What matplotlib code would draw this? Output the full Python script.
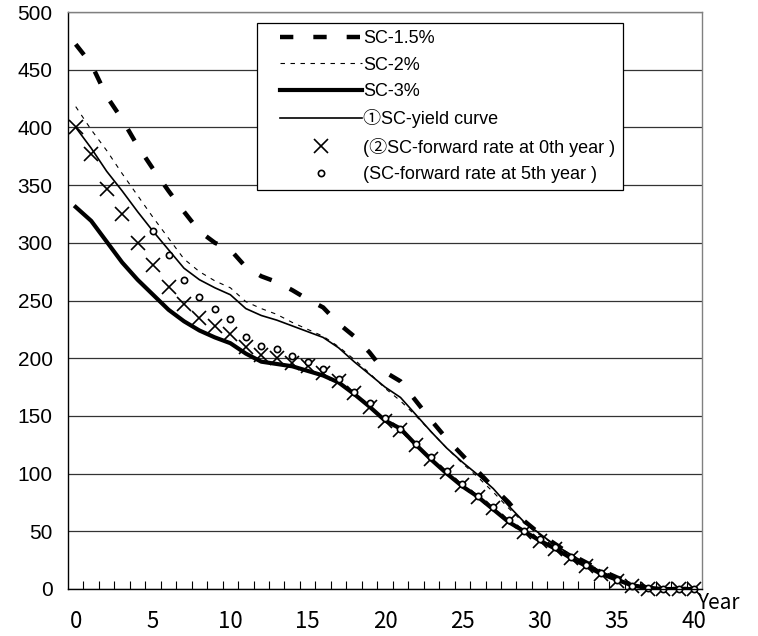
"""
plot.py
-------
Surrender charge curves by year (SC-1.5%, SC-2%, SC-3%, yield curve, forward rates).
Saves the chart as out.png
"""

import numpy as np
import matplotlib
matplotlib.use("Agg")
import matplotlib.pyplot as plt
import matplotlib.lines as mlines
from matplotlib.legend_handler import HandlerLine2D

# -------------------------------------------------------
# Data
# -------------------------------------------------------
years = list(range(0, 41))

sc_15 = [472, 455, 427, 407, 384, 364, 345, 327, 310, 300, 294, 279, 271, 266,
         259, 251, 244, 230, 219, 205, 188, 180, 163, 146, 130, 116, 102, 88,
         75, 59, 48, 39, 30, 23, 16, 10, 5, 1, 0, 0, 0]

sc_2 = [418, 398, 380, 360, 341, 322, 304, 286, 275, 267, 261, 249, 243, 238,
        231, 225, 219, 210, 199, 187, 174, 163, 150, 136, 122, 109, 97, 84,
        70, 57, 47, 38, 30, 23, 16, 10, 5, 1, 0, 0, 0]

sc_3 = [331, 319, 301, 283, 268, 255, 242, 232, 224, 218, 213, 204, 197, 195,
        193, 189, 185, 179, 169, 158, 146, 139, 125, 112, 100, 89, 80, 69,
        58, 50, 42, 35, 27, 20, 13, 8, 3, 1, 0, 0, 0]

yield_curve = [400, 382, 362, 345, 327, 310, 294, 278, 268, 261, 255, 243, 237,
               233, 228, 223, 218, 209, 197, 186, 175, 166, 151, 136, 122, 110,
               99, 87, 72, 58, 48, 38, 30, 22, 15, 9, 4, 1, 0, 0, 0]

fwd_0 = [400, 377, 347, 325, 300, 281, 262, 247, 235, 228, 221, 210, 203, 200,
         196, 193, 187, 180, 170, 158, 146, 138, 125, 113, 101, 90, 80, 70,
         59, 49, 42, 35, 27, 20, 13, 7, 3, 0, 0, 0, 0]

years_5 = list(range(5, 41))
fwd_5 = [310, 289, 268, 253, 243, 234, 218, 211, 208, 202, 197, 191, 182, 171,
         161, 148, 139, 126, 114, 102, 91, 81, 71, 60, 50, 43, 36, 28, 21, 14,
         8, 3, 1, 0, 0, 0]

labels = ["SC-1.5%", "SC-2%", "SC-3%", "①SC-yield curve",
          "(②SC-forward rate at 0th year )",
          "(SC-forward rate at 5th year )"]

# Arial-like latin text, CJK font only for the circled digits
LEGEND_FONT = ["Liberation Sans", "Noto Sans CJK JP", "DejaVu Sans"]

# -------------------------------------------------------
# Figure
# -------------------------------------------------------
fig = plt.figure(figsize=(7.58, 6.36), dpi=100)
ax = fig.add_axes([68 / 758, 47 / 636, 634 / 758, 577 / 636])

ax.plot(years, sc_15, color="black", linewidth=3.2,
        linestyle=(0, (3.0, 4.5)), label=labels[0])
ax.plot(years, sc_2, color="black", linewidth=0.8,
        linestyle=(0, (4, 5)), label=labels[1])
ax.plot(years, sc_3, color="black", linewidth=3.0, label=labels[2])
ax.plot(years, yield_curve, color="black", linewidth=1.2, label=labels[3])
ax.plot(years, fwd_0, linestyle="none", marker="x", markersize=9.5,
        markeredgewidth=1.2, color="black", clip_on=False, label=labels[4])
ax.plot(years_5, fwd_5, linestyle="none", marker="o", markersize=4.5,
        markeredgewidth=1.2, markerfacecolor="white", markeredgecolor="black",
        clip_on=False, label=labels[5])

# Axes range and ticks (Excel style category axis)
ax.set_xlim(-0.5, 40.5)
ax.set_ylim(0, 500)
ax.set_xticks(np.arange(0, 41, 5))
ax.set_xticks(np.arange(0.5, 40, 1), minor=True)
ax.set_yticks(np.arange(0, 501, 50))
ax.tick_params(axis="x", which="major", length=0, pad=15)
ax.tick_params(axis="x", which="minor", direction="in", length=6, width=0.8)
ax.tick_params(axis="y", length=0, pad=11)

for lab in ax.get_xticklabels():
    lab.set_fontfamily(["Noto Sans CJK JP", "DejaVu Sans"])
    lab.set_fontsize(16)
for lab in ax.get_yticklabels():
    lab.set_fontfamily(["Liberation Sans", "DejaVu Sans"])
    lab.set_fontsize(15)

ax.grid(axis="y", color="#333333", linewidth=0.9)
ax.set_axisbelow(True)
ax.spines["left"].set_color("black")
ax.spines["bottom"].set_color("black")
ax.spines["top"].set_color("#808080")
ax.spines["right"].set_color("#808080")
for spine in ax.spines.values():
    spine.set_linewidth(1.0)

ax.text(697 / 758, 1 - 603 / 636, "Year", transform=fig.transFigure,
        ha="left", va="center", fontsize=15, family=["Noto Sans CJK JP", "DejaVu Sans"])

# Legend
leg = ax.legend(loc="upper left", bbox_to_anchor=(257 / 758, 1 - 23 / 636),
                bbox_transform=fig.transFigure, borderaxespad=0,
                prop={"family": LEGEND_FONT, "size": 13},
                handlelength=5.43, handletextpad=0.05, labelspacing=0.52,
                borderpad=0.4, fancybox=False, framealpha=1, edgecolor="black",
                handler_map={mlines.Line2D: HandlerLine2D(xpad=0.87)})
leg.get_frame().set_linewidth(0.9)

fig.savefig("out.png", dpi=100)
plt.close(fig)
